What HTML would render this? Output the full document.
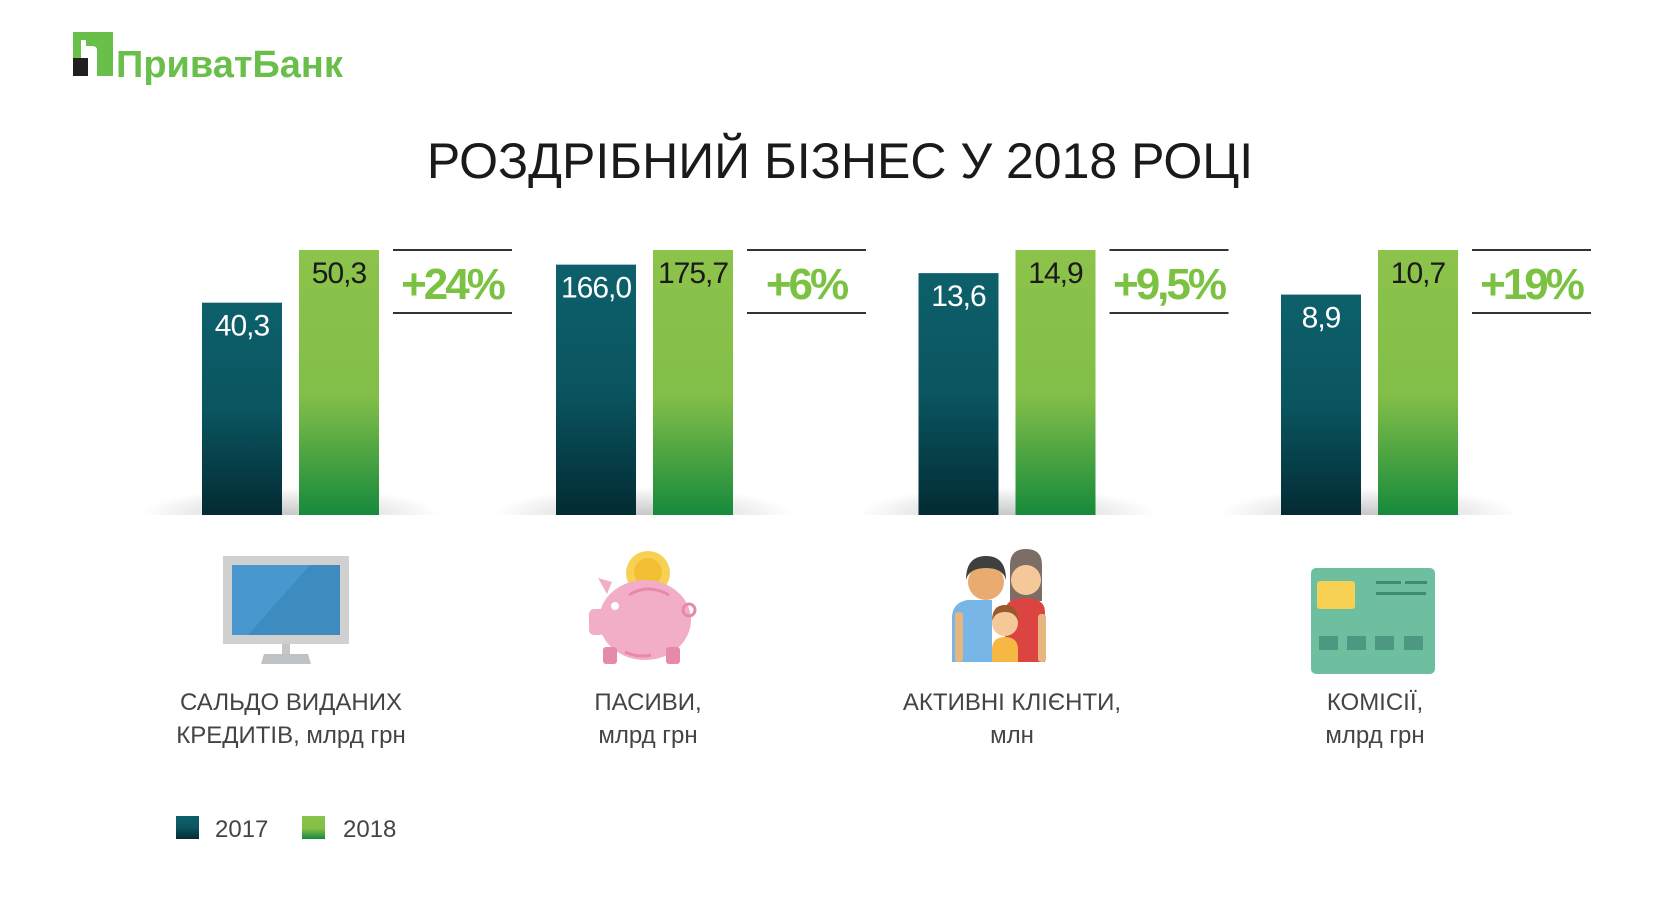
<!DOCTYPE html>
<html><head><meta charset="utf-8">
<style>
html,body{margin:0;padding:0;background:#fff;}
body{width:1680px;height:915px;overflow:hidden;position:relative;font-family:"Liberation Sans","DejaVu Sans",sans-serif;}
svg{position:absolute;left:0;top:0;}
</style></head>
<body>
<svg id="chart" width="1680" height="915" viewBox="0 0 1680 915">
<defs>
<linearGradient id="gDark" x1="0" y1="0" x2="0" y2="1">
<stop offset="0" stop-color="#0d606b"/><stop offset="0.5" stop-color="#0a5560"/><stop offset="1" stop-color="#032b33"/></linearGradient>
<linearGradient id="gGreen" x1="0" y1="0" x2="0" y2="1">
<stop offset="0" stop-color="#8cc34b"/><stop offset="0.55" stop-color="#82be48"/><stop offset="1" stop-color="#168a3c"/></linearGradient>
<radialGradient id="gShadow" cx="0.5" cy="0.5" r="0.5">
<stop offset="0" stop-color="#000" stop-opacity="0.22"/><stop offset="1" stop-color="#000" stop-opacity="0"/></radialGradient>
<clipPath id="aboveBase"><rect x="0" y="0" width="1680" height="515"/></clipPath>
</defs>
<g>
<rect x="73" y="32" width="40" height="44" fill="#6abf4b"/>
<rect x="81" y="40" width="24" height="36" fill="#fff"/>
<path d="M86 40 h19 v36 h-8 v-26 q0 -4 -5 -4 h-6z" fill="#6abf4b"/>
<rect x="73" y="58" width="15" height="18" fill="#231f20"/>
<text x="116" y="77" font-size="38" font-weight="bold" fill="#6abf4b" letter-spacing="0">ПриватБанк</text>
</g>
<text x="840" y="178" text-anchor="middle" font-size="50" fill="#1a1a1a" letter-spacing="0">РОЗДРІБНИЙ БІЗНЕС У 2018 РОЦІ</text>
<g id="bars"></g>
<g>
<rect x="223" y="556" width="126" height="88" fill="#d0d0d0"/>
<rect x="232" y="565" width="108" height="70" fill="#3d8bbf"/>
<path d="M232 565 h78 l-62 70 h-16z" fill="#4898cf"/>
<rect x="282" y="644" width="8" height="10" fill="#c5c5c5"/>
<path d="M264 654 h44 l3 10 h-50z" fill="#bfc3c5"/>
</g>
<g>
<circle cx="648" cy="573" r="22" fill="#f7d154"/><circle cx="648" cy="572" r="14" fill="#f2bf35"/>
<ellipse cx="645" cy="620" rx="46" ry="40" fill="#f2aec8"/>
<rect x="589" y="609" width="16" height="26" rx="5" fill="#f2aec8"/>
<path d="M598 578 l14 4 l-5 12z" fill="#f2aec8"/>
<rect x="603" y="647" width="14" height="17" rx="3" fill="#e78aaa"/><rect x="666" y="647" width="14" height="17" rx="3" fill="#e78aaa"/>
<circle cx="615" cy="606" r="4" fill="#fff"/>
<circle cx="689" cy="610" r="6" fill="none" stroke="#e78aaa" stroke-width="3"/>
<path d="M629 595 q19 -12 40 0" fill="none" stroke="#e78aaa" stroke-width="3"/>
<path d="M625 652 q13 6 26 3" fill="none" stroke="#e78aaa" stroke-width="3"/>
</g>
<g>
<path d="M952 618 q0 -15 15 -18 h25 v62 h-40z" fill="#78b6e7"/>
<rect x="955" y="612" width="8" height="50" rx="3" fill="#e7b57f"/>
<circle cx="986" cy="582" r="18" fill="#eaab70"/><path d="M966 580 q0 -24 20 -24 q20 0 20 24 q-3 -12 -20 -12 q-17 0 -20 12z" fill="#3f3f3f"/>
<path d="M1010 565 q0 -16 16 -16 q16 0 16 16 v36 h-32z" fill="#7c6e67"/>
<circle cx="1026" cy="580" r="15" fill="#f5c899"/>
<path d="M1005 612 q0 -14 20 -14 q20 0 20 14 v50 h-40z" fill="#dc4442"/>
<rect x="1038" y="614" width="8" height="48" rx="3" fill="#e7b57f"/>
<circle cx="1005" cy="623" r="13" fill="#f5c899"/><path d="M992 621 q0 -16 13 -16 q13 0 13 16 q-3 -9 -13 -9 q-10 0 -13 9z" fill="#9a5b2c"/>
<path d="M992 650 q0 -13 13 -13 q13 0 13 13 v12 h-26z" fill="#f6b842"/>
</g>
<g>
<rect x="1311" y="568" width="124" height="106" rx="5" fill="#6dbf9f"/>
<rect x="1317" y="581" width="38" height="28" rx="3" fill="#f7d154"/>
<rect x="1376" y="581" width="25" height="3" fill="#3f8a70"/><rect x="1405" y="581" width="22" height="3" fill="#3f8a70"/>
<rect x="1376" y="592" width="50" height="3" fill="#3f8a70"/>
<rect x="1319" y="636" width="19" height="14" fill="#4c9880"/><rect x="1347" y="636" width="19" height="14" fill="#4c9880"/>
<rect x="1375" y="636" width="19" height="14" fill="#4c9880"/><rect x="1404" y="636" width="19" height="14" fill="#4c9880"/>
</g>
<g font-size="24" fill="#444" text-anchor="middle">
<text x="291" y="710">САЛЬДО ВИДАНИХ<tspan x="291" dy="33">КРЕДИТІВ, млрд грн</tspan></text>
<text x="648" y="710">ПАСИВИ,<tspan x="648" dy="33">млрд грн</tspan></text>
<text x="1012" y="710">АКТИВНІ КЛІЄНТИ,<tspan x="1012" dy="33">млн</tspan></text>
<text x="1375" y="710">КОМІСІЇ,<tspan x="1375" dy="33">млрд грн</tspan></text>
</g>
<g>
<rect x="176" y="816" width="23" height="23" fill="url(#gDark)"/>
<text x="215" y="837" font-size="24" fill="#444">2017</text>
<rect x="302" y="816" width="23" height="23" fill="url(#gGreen)"/>
<text x="343" y="837" font-size="24" fill="#444">2018</text>
</g>
</svg>
<script>
const categories = ["loans", "liabilities", "clients", "fees"];
const values2017 = [40.3, 166.0, 13.6, 8.9];
const values2018 = [50.3, 175.7, 14.9, 10.7];
const labels2017 = ["40,3", "166,0", "13,6", "8,9"];
const labels2018 = ["50,3", "175,7", "14,9", "10,7"];
const growthLabels = ["+24%", "+6%", "+9,5%", "+19%"];

const NS = "http://www.w3.org/2000/svg";
const g = document.getElementById("bars");
const groupX = i => i === 0 ? 202 : 556 + (i - 1) * 362.5;
const baseY = 515, maxH = 265, barW = 80, gap = 17;
function mk(tag, attrs, parent) {
  const e = document.createElementNS(NS, tag);
  for (const k in attrs) e.setAttribute(k, attrs[k]);
  parent.appendChild(e);
  return e;
}
categories.forEach((c, i) => {
  const x0 = groupX(i);
  const mx = Math.max(values2017[i], values2018[i]);
  const y = v => baseY - v / mx * maxH;
  const sh = mk("ellipse", {cx: x0 + 88, cy: baseY, rx: 150, ry: 28, fill: "url(#gShadow)", "clip-path": "url(#aboveBase)"}, g);
  
  
  const b1 = mk("rect", {x: x0, y: y(values2017[i]), width: barW, height: baseY - y(values2017[i]), fill: "url(#gDark)"}, g);
  
  
  const b2 = mk("rect", {x: x0 + barW + gap, y: y(values2018[i]), width: barW, height: baseY - y(values2018[i]), fill: "url(#gGreen)"}, g);
  
  
  const t1 = mk("text", {x: x0 + barW / 2, y: y(values2017[i]) + 33, "text-anchor": "middle", "font-size": 30, fill: "#fff", "letter-spacing": "-1"}, g);
  t1.textContent = labels2017[i];
  
  
  const t2 = mk("text", {x: x0 + barW + gap + barW / 2, y: y(values2018[i]) + 33, "text-anchor": "middle", "font-size": 30, fill: "#1a1a1a", "letter-spacing": "-1"}, g);
  t2.textContent = labels2018[i];
  
  
  const lx = x0 + 191;
  const l1 = mk("line", {x1: lx, y1: 250, x2: lx + 119, y2: 250, stroke: "#333", "stroke-width": 2}, g);
  
  
  const l2 = mk("line", {x1: lx, y1: 313, x2: lx + 119, y2: 313, stroke: "#333", "stroke-width": 2}, g);
  
  
  const gt = mk("text", {x: lx + 59, y: 299, "text-anchor": "middle", "font-size": 44, "font-weight": "bold", fill: "#7cc242", "letter-spacing": "-3"}, g);
  gt.textContent = growthLabels[i];
  
  
});
</script>
</body></html>
